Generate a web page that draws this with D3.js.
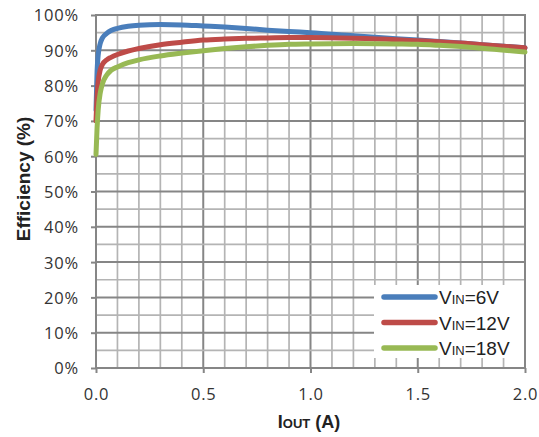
<!DOCTYPE html>
<html><head><meta charset="utf-8">
<script src="https://cdn.jsdelivr.net/npm/d3@7"></script>
<style>
html,body{margin:0;padding:0;background:#fff;}
svg{display:block;}
</style></head>
<body>
<svg id="c" width="539" height="437"></svg>
<script>
const iout = [0, 0.005, 0.01, 0.02, 0.03, 0.05, 0.07, 0.1, 0.15, 0.2, 0.3, 0.4, 0.5, 0.6, 0.7, 0.8, 0.9, 1.0, 1.2, 1.4, 1.5, 1.6, 1.8, 2.0];
const eff6V  = [73, 84, 88.5, 92, 93.5, 94.8, 95.6, 96.2, 96.8, 97.1, 97.3, 97.2, 96.9, 96.6, 96.2, 95.7, 95.3, 95.0, 94.1, 93.3, 92.9, 92.5, 91.6, 90.7];
const eff12V = [70, 77, 81, 84.5, 86, 87.3, 88, 88.8, 89.8, 90.5, 91.6, 92.3, 92.9, 93.2, 93.4, 93.5, 93.6, 93.6, 93.4, 93.0, 92.7, 92.4, 91.6, 90.7];
const eff18V = [60.5, 68, 73, 78, 80.5, 83, 84.3, 85.3, 86.5, 87.3, 88.4, 89.2, 89.9, 90.5, 91.0, 91.4, 91.7, 91.8, 91.9, 91.8, 91.7, 91.4, 90.6, 89.5];
const seriesNames = ["6V", "12V", "18V"];
const seriesColors = ["#4a7ebb", "#be4b48", "#98b954"];
const xTicks = [0, 0.5, 1.0, 1.5, 2.0];
const yTicks = [0, 10, 20, 30, 40, 50, 60, 70, 80, 90, 100];

const svg = d3.select("#c");
const L = 96, R = 525, T = 15, B = 368;
const x = d3.scaleLinear().domain([0, 2]).range([L, R]);
const y = d3.scaleLinear().domain([0, 100]).range([B, T]);

const tickFont = "'Open Sans', sans-serif";
const titleFont = "'Liberation Sans', Arial, sans-serif";

// grid
const g = svg.append("g");
const xMinor = d3.range(0, 21).map(i => i / 10);
const yMinor = d3.range(0, 21).map(i => i * 5);
xMinor.forEach(v => {
  const major = Math.abs(v * 2 - Math.round(v * 2)) < 1e-9;
  g.append("line").attr("x1", x(v)).attr("x2", x(v)).attr("y1", T).attr("y2", B)
    .attr("stroke", major ? "#868686" : "#b4b4b4").attr("stroke-width", major ? 2 : 1.7);
});
yMinor.forEach(v => {
  const major = v % 10 === 0;
  g.append("line").attr("x1", L).attr("x2", R).attr("y1", y(v)).attr("y2", y(v))
    .attr("stroke", major ? "#868686" : "#b4b4b4").attr("stroke-width", major ? 2 : 1.7);
});
// border
svg.append("rect").attr("x", L).attr("y", T).attr("width", R - L).attr("height", B - T)
  .attr("fill", "none").attr("stroke", "#868686").attr("stroke-width", 2);

// axes
const yAxis = d3.axisLeft(y).tickValues(yTicks).tickFormat(d => d + "%").tickSize(5).tickPadding(12);
const ya = svg.append("g").attr("transform", `translate(${L},0)`).call(yAxis);
const xAxis = d3.axisBottom(x).tickValues(xTicks).tickFormat(d3.format(".1f")).tickSize(5).tickPadding(15);
const xa = svg.append("g").attr("transform", `translate(0,${B})`).call(xAxis);
[ya, xa].forEach(a => {
  a.select(".domain").remove();
  a.selectAll(".tick line").attr("stroke", "#868686").attr("stroke-width", 2);
  a.selectAll(".tick text").attr("fill", "#333").style("font-family", tickFont)
    .style("font-size", "16.5px").style("letter-spacing", "0.8px");
});
ya.selectAll(".tick text").attr("dy", "0.36em");

// lines
const data = [eff6V, eff12V, eff18V];
const line = d3.line().x((d, i) => x(iout[i])).y(d => y(d)).curve(d3.curveMonotoneX);
data.forEach((s, k) => {
  svg.append("path").datum(s).attr("d", line).attr("fill", "none")
    .attr("stroke", seriesColors[k]).attr("stroke-width", 5).attr("stroke-linecap", "round").attr("stroke-linejoin", "round");
});

// legend
const lg = svg.append("g");
lg.append("rect").attr("x", 374).attr("y", 285).attr("width", R - 375).attr("height", 73).attr("fill", "#fff");
seriesNames.forEach((n, k) => {
  const yy = 297 + k * 25.5;
  lg.append("line").attr("x1", 384).attr("x2", 435).attr("y1", yy).attr("y2", yy)
    .attr("stroke", seriesColors[k]).attr("stroke-width", 5.5).attr("stroke-linecap", "round");
  const t = lg.append("text").attr("x", 439).attr("y", yy + 7)
    .style("font-family", titleFont).attr("fill", "#222");
  t.append("tspan").style("font-size", "19px").text("V");
  t.append("tspan").style("font-size", "13px").text("IN");
  t.append("tspan").style("font-size", "19px").text("=" + n);
});

// axis titles
const xt = svg.append("text").attr("x", 309).attr("y", 428).attr("text-anchor", "middle")
  .style("font-family", titleFont).style("font-weight", "bold").attr("fill", "#222");
xt.append("tspan").style("font-size", "18px").text("I");
xt.append("tspan").style("font-size", "13px").text("OUT");
xt.append("tspan").style("font-size", "18px").text(" (A)");

svg.append("text").attr("transform", "translate(30,179) rotate(-90)").attr("text-anchor", "middle")
  .style("font-family", titleFont).style("font-weight", "bold").style("font-size", "19px").attr("fill", "#222")
  .text("Efficiency (%)");
</script>
</body></html>
